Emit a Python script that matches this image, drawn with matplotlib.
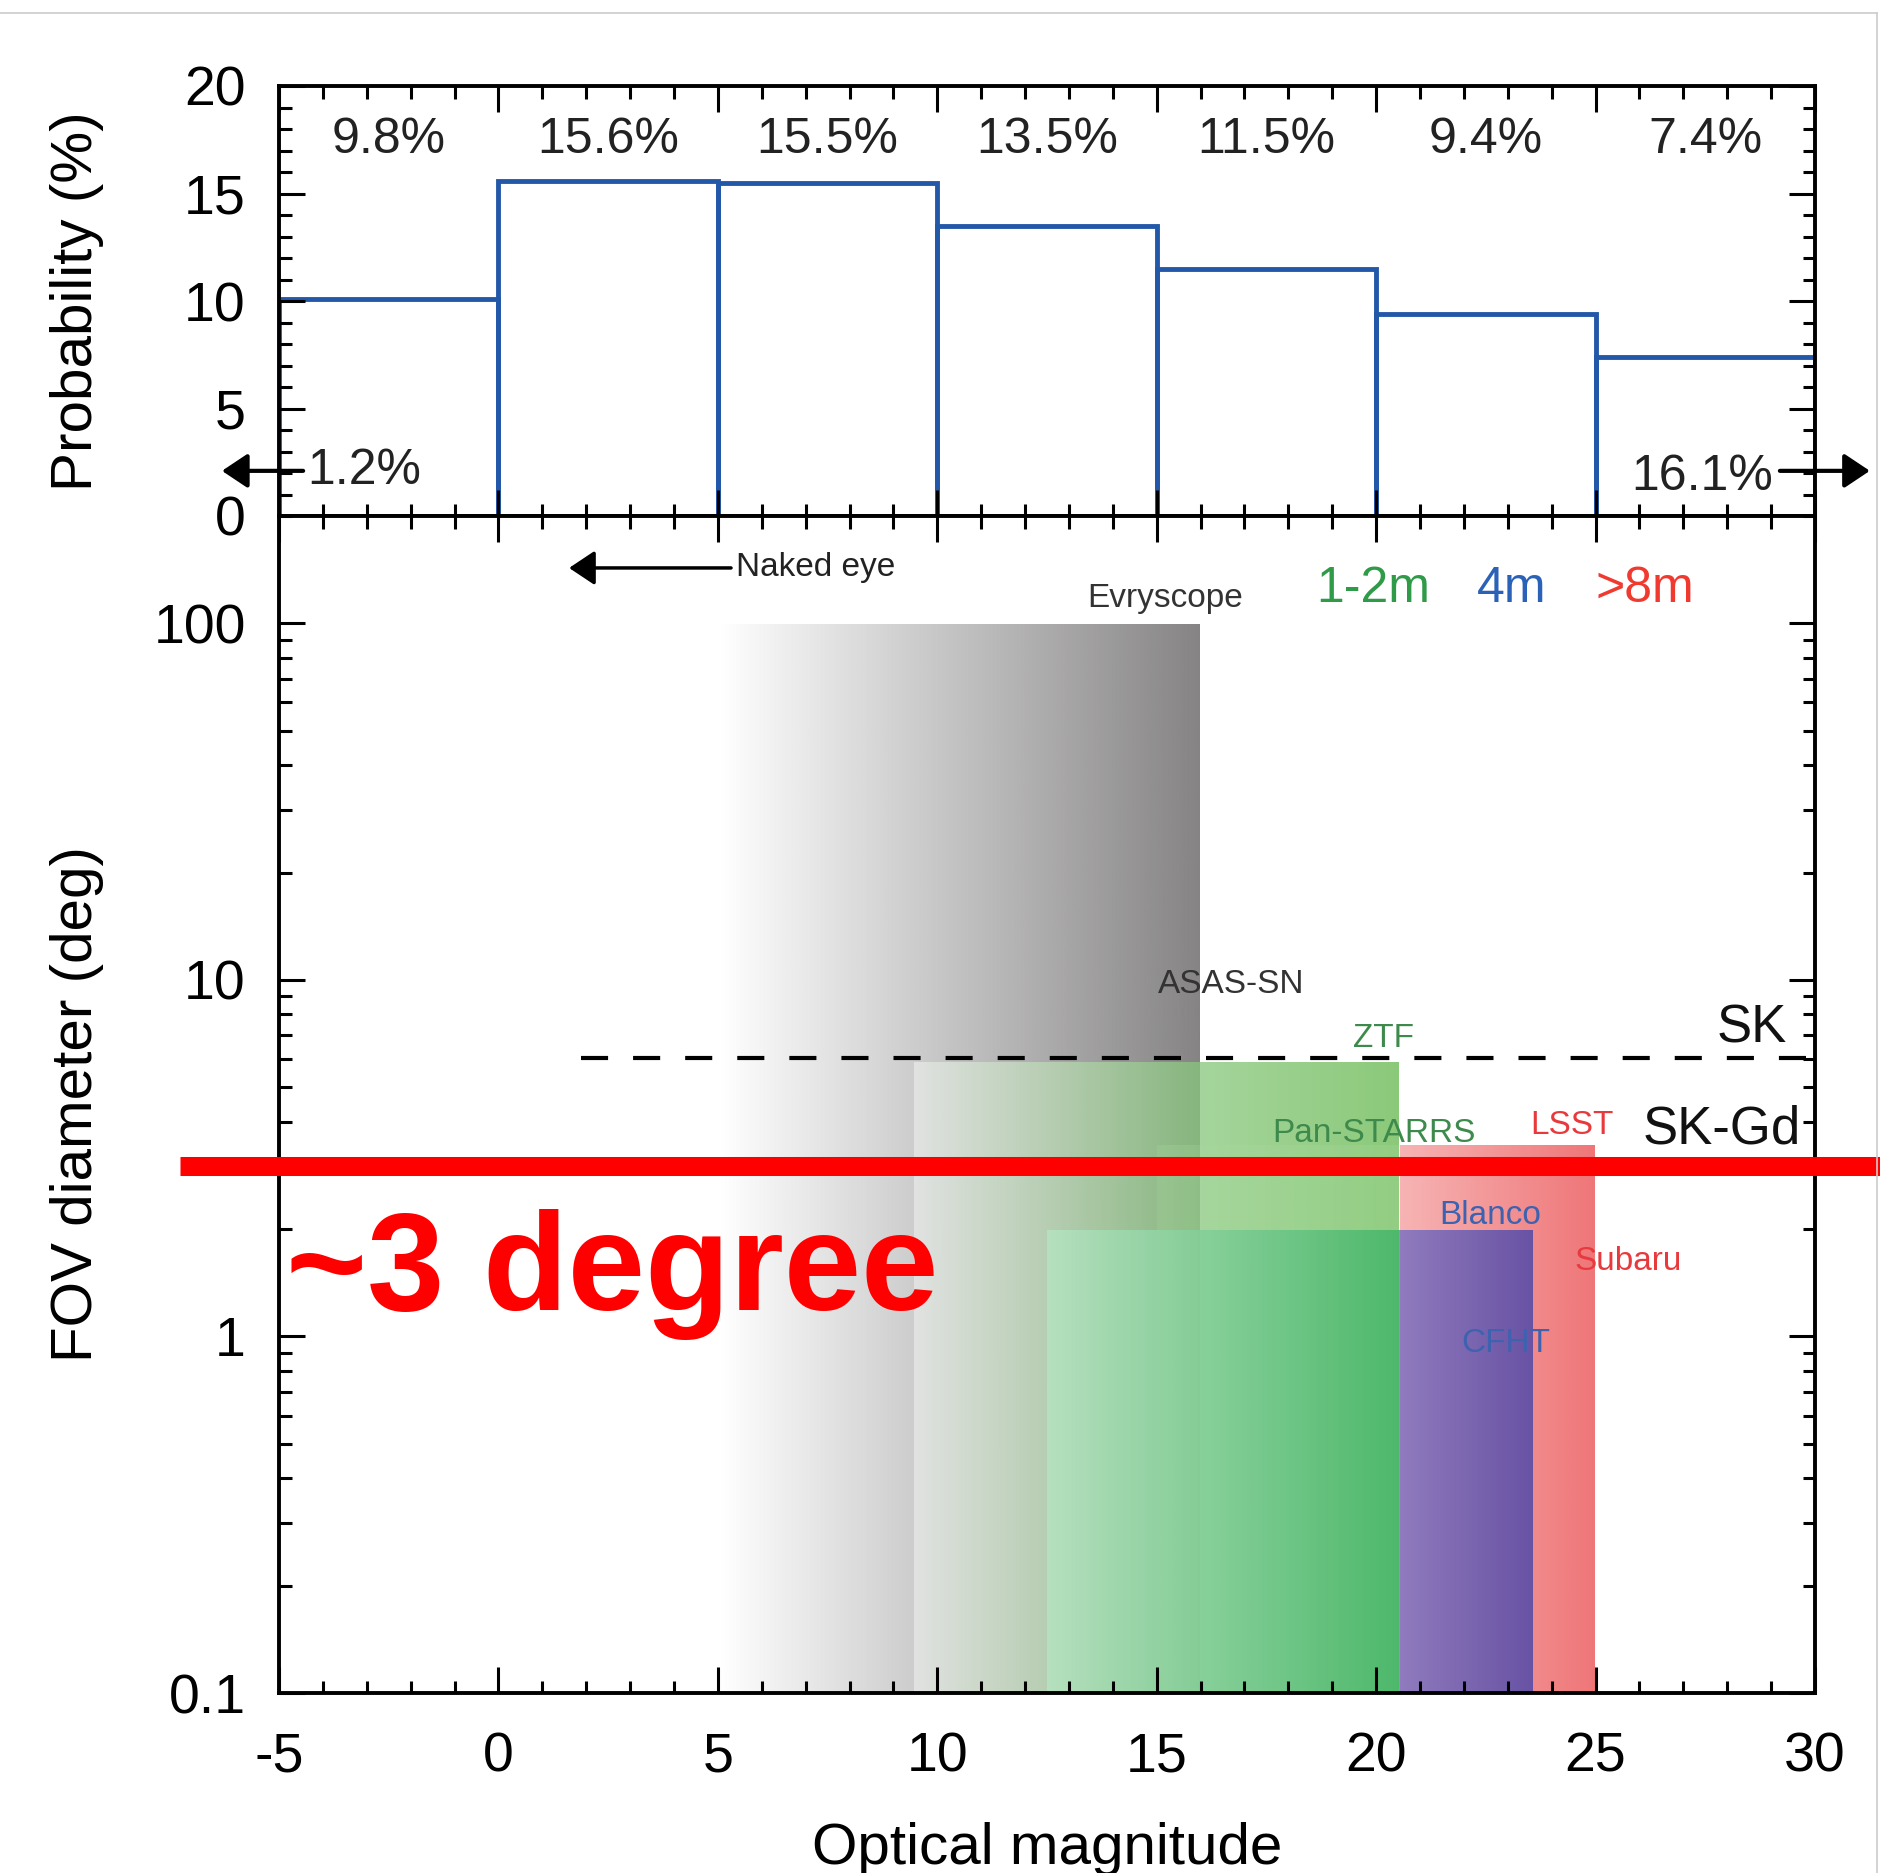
import numpy as np
import matplotlib
matplotlib.use('Agg')
import matplotlib.pyplot as plt
from matplotlib.ticker import MultipleLocator, FuncFormatter, NullFormatter
from matplotlib.lines import Line2D

plt.rcParams['font.family'] = ['Liberation Sans', 'DejaVu Sans']
plt.rcParams['axes.unicode_minus'] = False

# ── data ──────────────────────────────────────────────
mag_edges   = [-5, 0, 5, 10, 15, 20, 25, 30]
prob_height = [10.1, 15.6, 15.5, 13.5, 11.5, 9.4, 7.4]
prob_text   = ['9.8%', '15.6%', '15.5%', '13.5%', '11.5%', '9.4%', '7.4%']
under_text  = '1.2%'
over_text   = '16.1%'

# telescope boxes: magnitude range and FOV diameter (deg)
box_name = ['Evryscope', 'ZTF', 'Pan-STARRS', '2deg', 'LSST', 'Blanco']
box_x0   = [5.0, 9.48, 15.0, 12.5, 20.55, 20.55]
box_x1   = [16.0, 20.55, 20.55, 20.55, 25.0, 23.6]
box_fov  = [100, 5.9, 3.45, 2.0, 3.45, 2.0]

tel_names = ['Evryscope', 'ASAS-SN', 'ZTF', 'Pan-STARRS', 'LSST', 'Blanco', 'Subaru', 'CFHT']
tel_x     = [15.19, 16.69, 20.17, 19.95, 24.46, 22.6, 25.74, 22.96]
tel_y     = [117.5, 9.69, 6.84, 3.72, 3.9, 2.19, 1.62, 0.955]
tel_class = ['k', 'k', 'g', 'g', 'r', 'b', 'r', 'b']

class_names = ['1-2m', '4m', '>8m']
class_x     = [19.93, 23.09, 26.12]
class_y     = 125

sk_fov      = 6.05
sk_start    = 1.89
sk_names    = ['SK', 'SK-Gd']
sk_x        = [28.56, 27.88]
sk_y        = [7.31, 3.80]

naked_eye_from = 5.3
naked_eye_to   = 1.61
naked_eye_y    = 143

marked_fov = 3.0

# ── styles ────────────────────────────────────────────
BLUE = '#2358a8'
CLS = {'k': '#333333', 'g': '#3e8a4c', 'b': '#3c62b0', 'r': '#e83a3c'}
CLASS_COL = ['#2f9a48', '#2a62b8', '#f03a30']
BOX_STYLE = {
    'Evryscope':  ([0, 1], [(133, 131, 132), (133, 131, 132)], [0.0, 1.0]),
    'ZTF':        ([0, 0.59, 1], [(232, 234, 232), (135, 199, 123), (101, 184, 77)], [0.75, 0.75, 0.75]),
    'Pan-STARRS': ([0, 1], [(170, 220, 160), (170, 220, 160)], [0.25, 0.25]),
    '2deg':       ([0, 1], [(182, 228, 194), (65, 181, 103)], [0.85, 0.85]),
    'LSST':       ([0, 1], [(247, 180, 180), (239, 118, 120)], [1.0, 1.0]),
    'Blanco':     ([0, 1], [(143, 123, 189), (104, 82, 164)], [1.0, 1.0]),
}


def gradient_box(ax, x0, x1, y0, y1, style):
    stops, cols, alphas = style
    t = np.linspace(0, 1, 256)
    cols = np.array(cols) / 255.0
    img = np.zeros((1, 256, 4))
    for k in range(3):
        img[0, :, k] = np.interp(t, stops, cols[:, k])
    img[0, :, 3] = np.interp(t, stops, alphas)
    ax.imshow(img, extent=(x0, x1, y0, y1), aspect='auto',
              interpolation='bilinear', zorder=0.5)


W, H = 1880, 1873
fig = plt.figure(figsize=(W / 100, H / 100), dpi=100)
ax1 = fig.add_axes([279 / W, 1 - 516 / H, 1536 / W, 430 / H])
ax2 = fig.add_axes([279 / W, 1 - 1693 / H, 1536 / W, 1177 / H])

# ── top: probability histogram ───────────────────────
centers = [(a + b) / 2 for a, b in zip(mag_edges[:-1], mag_edges[1:])]
ax1.bar(centers, prob_height, width=5, fill=False, edgecolor=BLUE, lw=3.5)
for c, s in zip(centers, prob_text):
    ax1.text(c, 17.5, s, ha='center', va='center', fontsize=36, color='#222222')

ax1.text(-4.35, 2.1, under_text, ha='left', va='center', fontsize=36, color='#222222')
ax1.annotate('', xy=(-6.3, 2.1), xytext=(-4.45, 2.1), annotation_clip=False,
             arrowprops=dict(arrowstyle='-|>,head_length=0.45,head_width=0.3',
                             mutation_scale=35, lw=3, color='k', shrinkA=0, shrinkB=0))
ax1.text(29.05, 1.8, over_text, ha='right', va='center', fontsize=36, color='#222222')
ax1.annotate('', xy=(31.25, 2.1), xytext=(29.2, 2.1), annotation_clip=False,
             arrowprops=dict(arrowstyle='-|>,head_length=0.45,head_width=0.3',
                             mutation_scale=35, lw=3, color='k', shrinkA=0, shrinkB=0))

ax1.set_xlim(-5, 30)
ax1.set_ylim(0, 20)
ax1.xaxis.set_major_locator(MultipleLocator(5))
ax1.xaxis.set_minor_locator(MultipleLocator(1))
ax1.yaxis.set_major_locator(MultipleLocator(5))
ax1.yaxis.set_minor_locator(MultipleLocator(1))
ax1.tick_params(labelbottom=False)
ax1.set_ylabel('Probability (%)', fontsize=42, va='center')
ax1.yaxis.set_label_coords(-0.1315, 0.5)

# ── bottom: FOV vs magnitude ─────────────────────────
ax2.set_yscale('log')
for name, x0, x1, top in zip(box_name, box_x0, box_x1, box_fov):
    gradient_box(ax2, x0, x1, 0.1, top, BOX_STYLE[name])

for s, x, y, c in zip(tel_names, tel_x, tel_y, tel_class):
    ax2.text(x, y, s, ha='center', va='center', fontsize=24, color=CLS[c])
for s, x, c in zip(class_names, class_x, CLASS_COL):
    ax2.text(x, class_y, s, ha='center', va='center', fontsize=36, color=c)

ax2.plot([sk_start, 30], [sk_fov, sk_fov], color='k', lw=3, dashes=(6.5, 6), zorder=2)
for s, x, y in zip(sk_names, sk_x, sk_y):
    ax2.text(x, y, s, ha='center', va='center', fontsize=38, color='#111111')

ax2.annotate('', xy=(naked_eye_to, naked_eye_y), xytext=(naked_eye_from, naked_eye_y),
             arrowprops=dict(arrowstyle='-|>,head_length=0.45,head_width=0.3',
                             mutation_scale=35, lw=2.5, color='k', shrinkA=0, shrinkB=0))
ax2.text(naked_eye_from + 0.12, naked_eye_y, 'Naked eye', ha='left', va='center',
         fontsize=24, color='#222222')

# the ~3 degree marker
ax2.plot([-7.26, 31.5], [marked_fov, marked_fov], color='#ff0000', lw=13.7,
         solid_capstyle='butt', clip_on=False, zorder=5)
ax2.text(-4.83, 1.186, '~3 degree', ha='left', va='baseline', fontsize=100,
         fontweight='bold', color='#ff0000', zorder=5)

ax2.set_xlim(-5, 30)
ax2.set_ylim(0.1, 200)
ax2.xaxis.set_major_locator(MultipleLocator(5))
ax2.xaxis.set_minor_locator(MultipleLocator(1))
ax2.yaxis.set_major_formatter(FuncFormatter(lambda v, p: '%g' % v))
ax2.yaxis.set_minor_formatter(NullFormatter())
ax2.set_xlabel('Optical magnitude', fontsize=42, va='baseline')
ax2.xaxis.set_label_coords(0.5, -0.1453)
ax2.set_ylabel('FOV diameter (deg)', fontsize=42, va='center')
ax2.yaxis.set_label_coords(-0.1315, 0.5)

for ax in (ax1, ax2):
    for sp in ax.spines.values():
        sp.set_linewidth(2.8)
    ax.tick_params(which='both', direction='in', top=True, right=True, width=2.2)
    ax.tick_params(which='major', length=19, labelsize=40)
    ax.tick_params(axis='x', which='major', pad=28)
    ax.tick_params(axis='y', which='major', pad=24)
    ax.tick_params(which='minor', length=9)

# thin frame of the screenshot
fig.add_artist(Line2D([0, 1877 / W], [1 - 12.5 / H] * 2, color='#cccccc', lw=1.2))
fig.add_artist(Line2D([1877 / W] * 2, [0, 1 - 12.5 / H], color='#cccccc', lw=1.2))

fig.savefig('out.png', dpi=100)
